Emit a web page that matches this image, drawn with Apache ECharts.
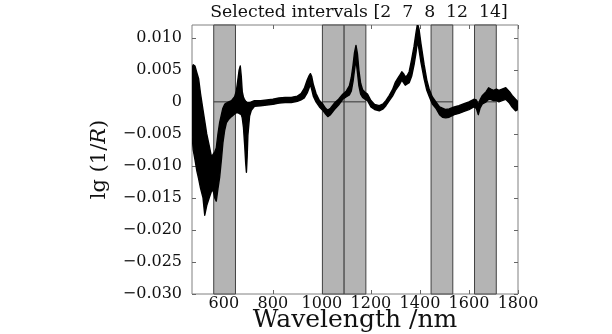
<!DOCTYPE html>
<html>
<head>
<meta charset="utf-8">
<script src="https://cdn.jsdelivr.net/npm/echarts@6/dist/echarts.min.js"></script>
<style>
    body{
        margin: 0;
        background: #fff;
    }
    #chart{
        width: 612px;
        height: 334px;
    }
</style>
</head>
<body>
<div id="chart"></div>
<script>
    // wavelength grid (nm) for the envelope of all spectra
    const wavelengths = [470, 475, 482, 490, 497, 505, 515, 522, 530, 540, 549, 556, 563, 569, 576, 583, 590, 596, 603, 610,
        620, 631, 644, 651, 657, 662, 667, 671, 675, 680, 685, 689, 692, 695, 698, 705, 712, 725, 750, 775,
        800, 825, 850, 875, 900, 915, 928, 940, 948, 953, 958, 965, 976, 990, 1003, 1015, 1024, 1035, 1051, 1068,
        1085, 1100, 1112, 1120, 1127, 1133, 1139, 1145, 1151, 1158, 1166, 1176, 1186, 1200, 1215, 1234, 1250, 1261, 1275, 1288,
        1300, 1315, 1326, 1333, 1340, 1348, 1356, 1366, 1376, 1384, 1390, 1396, 1404, 1417, 1428, 1437, 1450, 1465, 1480, 1492,
        1505, 1519, 1540, 1559, 1580, 1600, 1620, 1630, 1638, 1645, 1655, 1670, 1680, 1689, 1700, 1712, 1722, 1735, 1750, 1765,
        1776, 1790, 1800];
    // top edge of the bundle of spectra
    const upperEnvelope = [0.0053, 0.0058, 0.0056, 0.0045, 0.0036, 0.0012, -0.0013, -0.0030, -0.0050, -0.0068, -0.0085, -0.0082, -0.0078, -0.0072, -0.0050, -0.0032, -0.0020, -0.0010, -0.0004, -0.0002,
        0.0000, 0.0002, 0.0008, 0.0017, 0.0034, 0.0049, 0.0056, 0.0040, 0.0016, 0.0007, 0.0003, 0.0001, 0.0000, -0.0001, -0.0001, -0.0001, 0.0000, 0.0002, 0.0002, 0.0003,
        0.0004, 0.0006, 0.0007, 0.0007, 0.0009, 0.0013, 0.0021, 0.0034, 0.0041, 0.0044, 0.0040, 0.0027, 0.0013, 0.0002, -0.0003, -0.0010, -0.0013, -0.0010, -0.0002, 0.0004,
        0.0012, 0.0017, 0.0025, 0.0038, 0.0057, 0.0077, 0.0088, 0.0075, 0.0049, 0.0029, 0.0019, 0.0015, 0.0012, 0.0002, -0.0004, -0.0006, -0.0003, 0.0002, 0.0010, 0.0019,
        0.0031, 0.0040, 0.0047, 0.0044, 0.0039, 0.0041, 0.0047, 0.0066, 0.0087, 0.0108, 0.0122, 0.0114, 0.0091, 0.0058, 0.0034, 0.0021, 0.0008, 0.0000, -0.0008, -0.0010,
        -0.0012, -0.0011, -0.0008, -0.0006, -0.0003, 0.0000, 0.0004, 0.0003, -0.0004, 0.0003, 0.0010, 0.0016, 0.0022, 0.0020, 0.0018, 0.0020, 0.0018, 0.0020, 0.0022, 0.0016,
        0.0010, 0.0004, 0.0000];
    // bottom edge of the bundle of spectra
    const lowerEnvelope = [-0.0052, -0.0075, -0.0090, -0.0108, -0.0120, -0.0135, -0.0150, -0.0177, -0.0162, -0.0150, -0.0140, -0.0138, -0.0150, -0.0155, -0.0135, -0.0117, -0.0090, -0.0064, -0.0045, -0.0033,
        -0.0027, -0.0023, -0.0019, -0.0017, -0.0017, -0.0018, -0.0019, -0.0020, -0.0025, -0.0040, -0.0068, -0.0095, -0.0110, -0.0086, -0.0052, -0.0022, -0.0013, -0.0007, -0.0006, -0.0005,
        -0.0004, -0.0002, -0.0001, -0.0001, 0.0001, 0.0003, 0.0006, 0.0014, 0.0022, 0.0027, 0.0020, 0.0009, 0.0000, -0.0008, -0.0013, -0.0019, -0.0023, -0.0020, -0.0012, -0.0005,
        0.0004, 0.0008, 0.0011, 0.0017, 0.0032, 0.0050, 0.0066, 0.0046, 0.0025, 0.0012, 0.0007, 0.0004, 0.0002, -0.0008, -0.0012, -0.0014, -0.0011, -0.0006, 0.0002, 0.0009,
        0.0018, 0.0026, 0.0034, 0.0030, 0.0026, 0.0028, 0.0030, 0.0040, 0.0058, 0.0077, 0.0096, 0.0082, 0.0062, 0.0036, 0.0018, 0.0009, -0.0003, -0.0010, -0.0020, -0.0024,
        -0.0025, -0.0024, -0.0020, -0.0018, -0.0015, -0.0012, -0.0008, -0.0010, -0.0020, -0.0010, -0.0003, 0.0000, 0.0004, 0.0004, 0.0002, 0.0002, 0.0000, 0.0002, 0.0004, -0.0002,
        -0.0008, -0.0014, -0.0012];

    // the spectral range is cut into equal intervals, these ones are selected
    const intervalCount = 15;
    const selectedIntervals = [2, 7, 8, 12, 14];

    const xTicks = [600, 800, 1000, 1200, 1400, 1600, 1800];
    const yTicks = [-0.030, -0.025, -0.020, -0.015, -0.010, -0.005, 0, 0.005, 0.010];

    const xMin = 470, xMax = 1800;
    const yMin = -0.030, yMax = 0.012;
    const serif = 'DejaVu Serif';

    function fmtY(v){
        if(Math.abs(v) < 1e-9) return '0';
        return v.toFixed(3).replace('-', '\u2212');
    }

    const chart = echarts.init(document.getElementById('chart'));

    const tick = {show: true, inside: true, length: 4, lineStyle: {color: '#666'}};
    const noLine = {show: false, onZero: false};

    chart.setOption({
        animation: false,
        title: {
            text: 'Selected intervals [2  7  8  12  14]',
            left: 354,
            textAlign: 'center',
            top: -1,
            textStyle: {fontFamily: serif, fontSize: 17.3, fontWeight: 'normal', color: '#111'}
        },
        grid: {
            left: 192, right: 94, top: 25, bottom: 40,
            containLabel: false,
            outerBoundsMode: 'none',
            show: true, borderColor: '#808080', borderWidth: 1
        },
        xAxis: [{
            type: 'value', min: xMin, max: xMax,
            name: 'Wavelength /nm', nameLocation: 'middle', nameGap: 14,
            nameMoveOverlap: false,
            nameTextStyle: {fontFamily: serif, fontSize: 25, color: '#111'},
            axisLine: noLine,
            splitLine: {show: false},
            axisTick: Object.assign({customValues: xTicks}, tick),
            axisLabel: {customValues: xTicks, formatter: v => String(v), fontFamily: serif, fontSize: 16, color: '#111', margin: 2}
        }, {
            type: 'value', min: xMin, max: xMax, position: 'top',
            axisLine: noLine, splitLine: {show: false},
            axisTick: Object.assign({customValues: xTicks}, tick),
            axisLabel: {show: false}
        }],
        yAxis: [{
            type: 'value', min: yMin, max: yMax,
            name: 'lg (1/{i|R})', nameLocation: 'middle', nameGap: 82, nameRotate: 90,
            nameMoveOverlap: false,
            nameTextStyle: {
                fontFamily: serif, fontSize: 21, color: '#111',
                rich: {i: {fontFamily: serif, fontSize: 21, fontStyle: 'italic', color: '#111'}}
            },
            axisLine: noLine,
            splitLine: {show: false},
            axisTick: Object.assign({customValues: yTicks}, tick),
            axisLabel: {customValues: yTicks, formatter: fmtY, fontFamily: serif, fontSize: 16, color: '#111', margin: 10}
        }, {
            type: 'value', min: yMin, max: yMax, position: 'right',
            axisLine: noLine, splitLine: {show: false},
            axisTick: Object.assign({customValues: yTicks}, tick),
            axisLabel: {show: false}
        }],
        series: [
            {
                // gray bands for the selected intervals
                type: 'custom',
                z: 1,
                data: selectedIntervals.map(k => [k]),
                renderItem: function(params, api){
                    const k = selectedIntervals[params.dataIndex];
                    const w = (xMax - xMin) / intervalCount;
                    const x0 = xMin + (k - 1) * w;
                    const x1 = x0 + w;
                    const p0 = api.coord([x0, yMax]);
                    const p1 = api.coord([x1, yMin]);
                    const z0 = api.coord([x0, 0]);
                    const z1 = api.coord([x1, 0]);
                    return {
                        type: 'group',
                        children: [{
                            type: 'rect',
                            shape: {x: p0[0], y: p0[1], width: p1[0] - p0[0], height: p1[1] - p0[1]},
                            style: {fill: '#b4b4b4', stroke: '#404040', lineWidth: 1}
                        }, {
                            type: 'line',
                            shape: {x1: z0[0], y1: z0[1], x2: z1[0], y2: z1[1]},
                            style: {stroke: '#333', lineWidth: 1}
                        }]
                    };
                }
            },
            {
                // envelope of all the spectra, drawn as one filled polygon
                type: 'custom',
                z: 3,
                clip: true,
                data: [[xMin]],
                renderItem: function(params, api){
                    const pts = [];
                    for(let i = 0; i < wavelengths.length; i++){
                        pts.push(api.coord([wavelengths[i], upperEnvelope[i]]));
                    }
                    for(let i = wavelengths.length - 1; i >= 0; i--){
                        pts.push(api.coord([wavelengths[i], lowerEnvelope[i]]));
                    }
                    return {
                        type: 'polygon',
                        shape: {points: pts},
                        style: {fill: '#000', stroke: '#000', lineWidth: 1.4, lineJoin: 'round'}
                    };
                }
            }
        ]
    });
</script>
</body>
</html>
